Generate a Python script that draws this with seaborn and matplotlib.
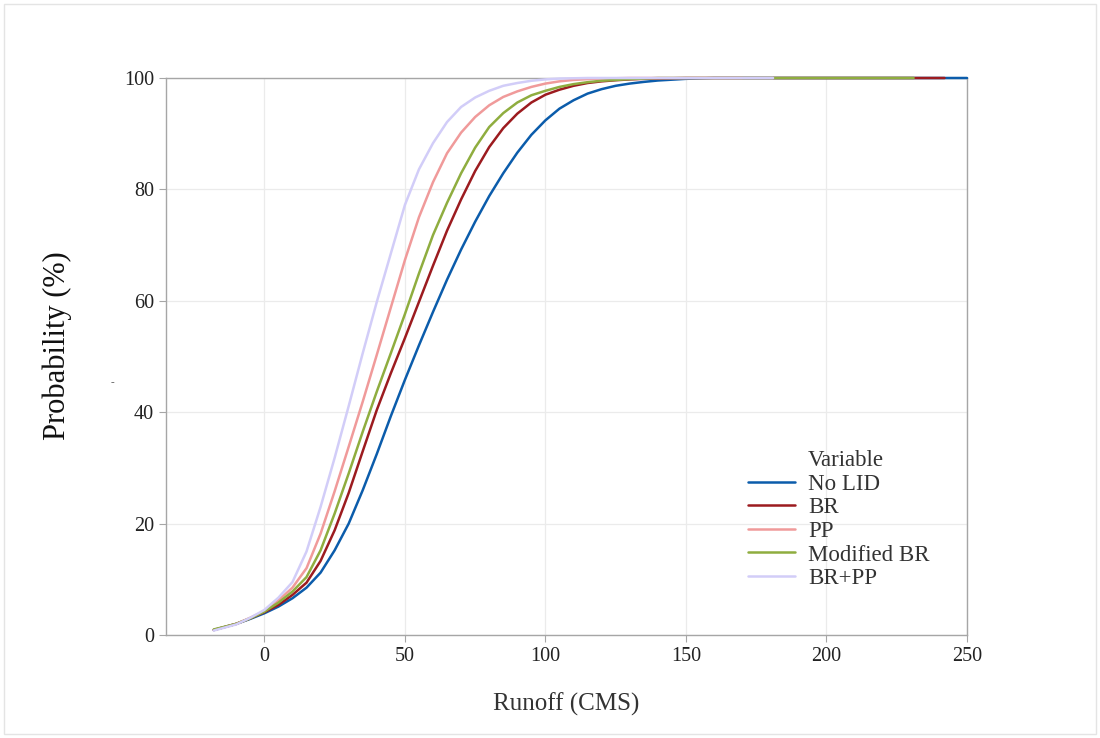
import numpy as np
import pandas as pd
import seaborn as sns
import matplotlib
matplotlib.use('Agg')
from matplotlib import pyplot as plt
from matplotlib.lines import Line2D
from matplotlib.patches import Rectangle

# values (runoff in CMS, probability in %)
runoff = [-18, -10, -5, 0, 5, 10, 15, 20, 25, 30, 35, 40, 45, 50, 55, 60, 65, 70, 75, 80,
          85, 90, 95, 100, 105, 110, 115, 120, 125, 130, 135, 140, 150, 160]

no_lid = [0.9, 2.0, 2.9, 3.9, 5.1, 6.6, 8.5, 11.2, 15.2, 20.0, 26.0, 32.5, 39.3, 45.8, 52.0, 58.0, 63.8, 69.2, 74.2, 78.8,
          82.9, 86.6, 89.8, 92.4, 94.5, 96.0, 97.2, 98.0, 98.6, 99.0, 99.3, 99.55, 99.85, 100]
br = [0.9, 2.0, 3.0, 4.1, 5.4, 7.2, 9.4, 13.3, 18.8, 25.5, 33.0, 40.4, 47.0, 53.3, 59.8, 66.3, 72.6, 78.2, 83.3, 87.6,
      91.0, 93.6, 95.6, 97.0, 97.9, 98.6, 99.1, 99.4, 99.6, 99.75, 99.85, 99.9, 100, 100]
pp = [0.9, 2.0, 3.1, 4.3, 6.2, 8.5, 12.0, 18.2, 25.8, 33.8, 41.9, 50.3, 58.8, 67.3, 75.0, 81.3, 86.5, 90.2, 93.0, 95.1,
      96.6, 97.6, 98.4, 99.0, 99.4, 99.65, 99.8, 99.9, 99.95, 100, 100, 100, 100, 100]
mod_br = [1.0, 2.0, 3.0, 4.2, 5.8, 7.8, 10.4, 15.2, 21.8, 29.0, 36.5, 43.7, 50.6, 57.6, 64.9, 71.8, 77.6, 82.9, 87.5, 91.2,
          93.7, 95.6, 96.9, 97.7, 98.4, 98.9, 99.25, 99.5, 99.65, 99.8, 99.9, 100, 100, 100]
br_pp = [0.8, 1.9, 3.1, 4.5, 6.7, 9.5, 15.0, 23.0, 31.8, 41.1, 50.6, 59.8, 68.5, 77.2, 83.6, 88.3, 92.1, 94.8, 96.5, 97.7,
         98.6, 99.1, 99.5, 99.75, 99.9, 99.95, 100, 100, 100, 100, 100, 100, 100, 100]

# where each flat 100 % tail stops
tail_end = {'No LID': 250, 'BR': 242, 'PP': 170, 'Modified BR': 231, 'BR+PP': 181}

variables = ['No LID', 'BR', 'PP', 'Modified BR', 'BR+PP']
colors = ['#0b5cab', '#9c1b1f', '#f09a9a', '#8fad3f', '#d2cdf8']
x_ticks = [0, 50, 100, 150, 200, 250]
y_ticks = [0, 20, 40, 60, 80, 100]

series = {'No LID': no_lid, 'BR': br, 'PP': pp, 'Modified BR': mod_br, 'BR+PP': br_pp}
frames = []
for name in variables:
    xs = runoff + [tail_end[name]]
    ps = series[name] + [100]
    frames.append(pd.DataFrame({'Runoff': xs, 'Probability': ps, 'Variable': name}))
df = pd.concat(frames, ignore_index=True)

sns.set_theme(style='white')
plt.rcParams['font.family'] = ['Liberation Serif', 'DejaVu Serif']

fig = plt.figure(figsize=(11, 7.38), dpi=100)
ax = fig.add_axes([166 / 1100, 1 - 635 / 738, 801 / 1100, 557 / 738])

sns.lineplot(data=df, x='Runoff', y='Probability', hue='Variable', hue_order=variables,
             palette=colors, sort=False, estimator=None, linewidth=1.8, legend=False, ax=ax)
# lines sit on top of the frame, like the reference (tails visible along the top edge)
for ln in ax.lines:
    ln.set_clip_on(False)
    ln.set_zorder(3)

ax.set_xlim(-35, 250)
ax.set_ylim(0, 100)
ax.set_xticks(x_ticks)
ax.set_yticks(y_ticks)
ax.grid(True, color='#ebebeb', linewidth=0.9)
ax.set_axisbelow(True)
for sp in ax.spines.values():
    sp.set_color('#a6a6a6')
    sp.set_linewidth(1.0)
ax.tick_params(axis='both', labelsize=14.5, colors='#222222', length=5, width=0.8,
               left=True, bottom=True)
ax.tick_params(axis='both', color='#a6a6a6')

ax.set_xlabel('Runoff (CMS)', fontsize=18, color='#333333')
ax.set_ylabel('Probability (%)', fontsize=22, color='#111111')
ax.xaxis.set_label_coords(0.5, -0.104)
ax.yaxis.set_label_coords(-0.117, 0.52)

handles = [Line2D([], [], alpha=0)] + [Line2D([], [], color=c, linewidth=1.8) for c in colors]
labels = ['Variable'] + variables
leg = ax.legend(handles, labels, loc='lower left', bbox_to_anchor=(0.715, 0.066),
                frameon=False, fontsize=16.5, labelspacing=0.11, handlelength=2.05,
                handletextpad=0.57, borderaxespad=0)
for t in leg.get_texts():
    t.set_color('#333333')

fig.text(112 / 1100, 1 - 383 / 738, '-', fontsize=8, color='#555555', ha='center', va='center')
fig.patches.append(Rectangle((0.004, 0.005), 0.992, 0.99, transform=fig.transFigure,
                             fill=False, edgecolor='#e4e4e4', linewidth=1.0))

fig.savefig('out.png', dpi=100)
